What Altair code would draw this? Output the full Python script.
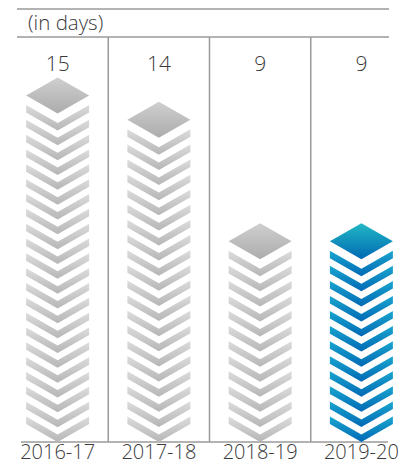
import altair as alt
import pandas as pd

# ---- data ----
years = ["2016-17", "2017-18", "2018-19", "2019-20"]
days = [15, 14, 9, 9]
chevron_counts = [22, 20, 12, 12]   # stacked layers drawn under each top diamond
unit_label = "(in days)"
highlight = "2019-20"

# ---- layout / styling ----
W, H = 395, 457
BASE = 434          # baseline pixel row (plot coords)
PPU = 24.3          # pixels per day
Y0 = -(H - BASE) / PPU
Y1 = Y0 + H / PPU
TOP_GAP = 53 / PPU  # from diamond top to first chevron tip, in days
FONT = "Open Sans"
TXT = "#3a3a3a"
LINE = "#9a9a9a"
SYM_SIZE = 63 ** 2

yscale = alt.Scale(domain=[Y0, Y1], nice=False, zero=False)
xscale = alt.Scale(domain=years, range=[-1, 404], paddingInner=0, paddingOuter=0)

DIAMOND = "M0,0L1,0.571L0,1.143L-1,0.571Z"
CHEVRON = "M-1,-0.571L0,0L1,-0.571L1,-0.81L0,-0.239L-1,-0.81Z"


def grad(c0, c1):
    return alt.LinearGradient(
        gradient="linear",
        stops=[alt.GradientStop(color=c0, offset=0), alt.GradientStop(color=c1, offset=1)],
        x1=0, x2=0, y1=0, y2=1,
    )


rows = []
for yr, v, n in zip(years, days, chevron_counts):
    first = v - TOP_GAP
    for k in range(n):
        rows.append({"year": yr, "tip": first * k / (n - 1)})
chev = pd.DataFrame(rows)
tops = pd.DataFrame({"year": years, "days": days})
one = pd.DataFrame({"a": [0]})

X = alt.X("year:N", scale=xscale, axis=None)
not_hl = f"datum.year != '{highlight}'"
is_hl = f"datum.year == '{highlight}'"

top_line = alt.Chart(one).mark_rule(color=LINE, strokeWidth=1.5).encode(
    x=alt.value(9), x2=alt.value(381), y=alt.value(1))
head_line = alt.Chart(one).mark_rule(color=LINE, strokeWidth=1.5).encode(
    x=alt.value(9), x2=alt.value(381), y=alt.value(29))
base_line = alt.Chart(one).mark_rule(color=LINE, strokeWidth=1.5).encode(
    x=alt.value(13), x2=alt.value(380), y=alt.Y(datum=0, scale=yscale, axis=None))

seps = alt.Chart(pd.DataFrame({"year": years[1:]})).mark_rule(color=LINE, strokeWidth=1.5).encode(
    x=alt.X("year:N", scale=xscale, axis=None, bandPosition=0),
    y=alt.Y(datum=0, scale=yscale, axis=None),
    y2=alt.value(29),
)


def sym_layer(df, field, shape, g, flt):
    return alt.Chart(df).transform_filter(flt).mark_point(
        shape=shape, size=SYM_SIZE, filled=True, color=g, fill=g,
        strokeWidth=0, opacity=1,
    ).encode(x=X, y=alt.Y(f"{field}:Q", scale=yscale, axis=None))


chev_gray = sym_layer(chev, "tip", CHEVRON, grad("#dcdcdc", "#b6b6b6"), not_hl)
chev_blue = sym_layer(chev, "tip", CHEVRON, grad("#1aa6cf", "#0068b4"), is_hl)
dia_gray = sym_layer(tops, "days", DIAMOND, grad("#cfcfcf", "#acacac"), not_hl)
dia_blue = sym_layer(tops, "days", DIAMOND, grad("#22b8c4", "#0068b4"), is_hl)

val_text = alt.Chart(tops).mark_text(
    font=FONT, fontSize=21, fontWeight=300, color=TXT, baseline="alphabetic", align="center"
).encode(x=X, y=alt.value(62.7), text=alt.Text("days:Q"))

cat_text = alt.Chart(tops).mark_text(
    font=FONT, fontSize=20, fontWeight=300, color=TXT, baseline="alphabetic", align="center"
).encode(x=X, y=alt.value(451), text=alt.Text("year:N"))

unit_text = alt.Chart(one).mark_text(
    font=FONT, fontSize=20.5, fontWeight=300, color=TXT, baseline="alphabetic", align="left",
    text=unit_label,
).encode(x=alt.value(20), y=alt.value(21.5))

chart = alt.layer(
    top_line, head_line, seps, base_line,
    chev_gray, chev_blue, dia_gray, dia_blue,
    val_text, cat_text, unit_text,
).properties(
    width=W, height=H, padding=0,
    autosize=alt.AutoSizeParams(type="none"),
).configure_view(strokeWidth=0)

chart.save("out.html", embed_options={"renderer": "svg", "actions": False})
